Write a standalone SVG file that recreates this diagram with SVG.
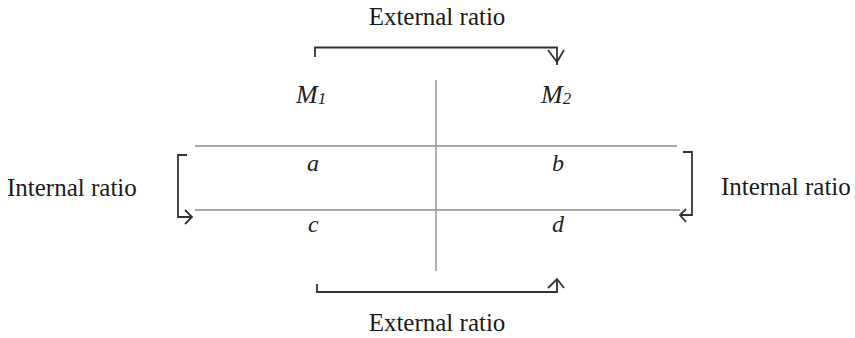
<svg xmlns="http://www.w3.org/2000/svg" width="855" height="338" viewBox="0 0 855 338">
<style>
.lbl{font-family:"Liberation Serif","Times New Roman",serif;font-size:25px;fill:#1a1a1a}
.var{font-family:"Liberation Serif","Times New Roman",serif;font-size:24px;font-style:italic;fill:#222}
.mvar{font-size:26px}
.sub{font-size:17px}
.br{fill:none;stroke:#333;stroke-width:1.8;stroke-linejoin:miter}
.rule{fill:none;stroke:#8a8a8a;stroke-width:1.6}
.vrule{fill:none;stroke:#999;stroke-width:1.6}
</style>
<rect width="855" height="338" fill="#fff"/>
<g id="connectors">
<path class="rule" d="M195 146 H677"/>
<path class="rule" d="M195 210 H680"/>
<path class="vrule" d="M436 80 V271"/>
<path class="br" d="M315 57 V47.5 H557 V65"/>
<path class="br" d="M548 50 L557 62 L564 50"/>
<path class="br" d="M317 284 V292 H557 V280"/>
<path class="br" d="M548 288 L557 279 L564 288"/>
<path class="br" d="M187 155 H178 V217 H192"/>
<path class="br" d="M185 210 L192 217 L185 224"/>
<path class="br" d="M683 152 H692 V215 H680"/>
<path class="br" d="M686 209 L680 215 L686 222"/>
</g>
<g id="ext-top"><text class="lbl" x="437" y="25" text-anchor="middle">External ratio</text></g>
<g id="ext-bottom"><text class="lbl" x="437" y="331" text-anchor="middle">External ratio</text></g>
<g id="int-left"><text class="lbl" x="7" y="196">Internal ratio</text></g>
<g id="int-right"><text class="lbl" x="721" y="195">Internal ratio</text></g>
<g id="m1"><text class="var mvar" x="296" y="103">M<tspan class="sub" dy="1">1</tspan></text></g>
<g id="m2"><text class="var mvar" x="541" y="103">M<tspan class="sub" dy="1">2</tspan></text></g>
<g id="a"><text class="var" x="307" y="171">a</text></g>
<g id="b"><text class="var" x="552" y="171">b</text></g>
<g id="c"><text class="var" x="308" y="232">c</text></g>
<g id="d"><text class="var" x="552" y="232">d</text></g>
</svg>
